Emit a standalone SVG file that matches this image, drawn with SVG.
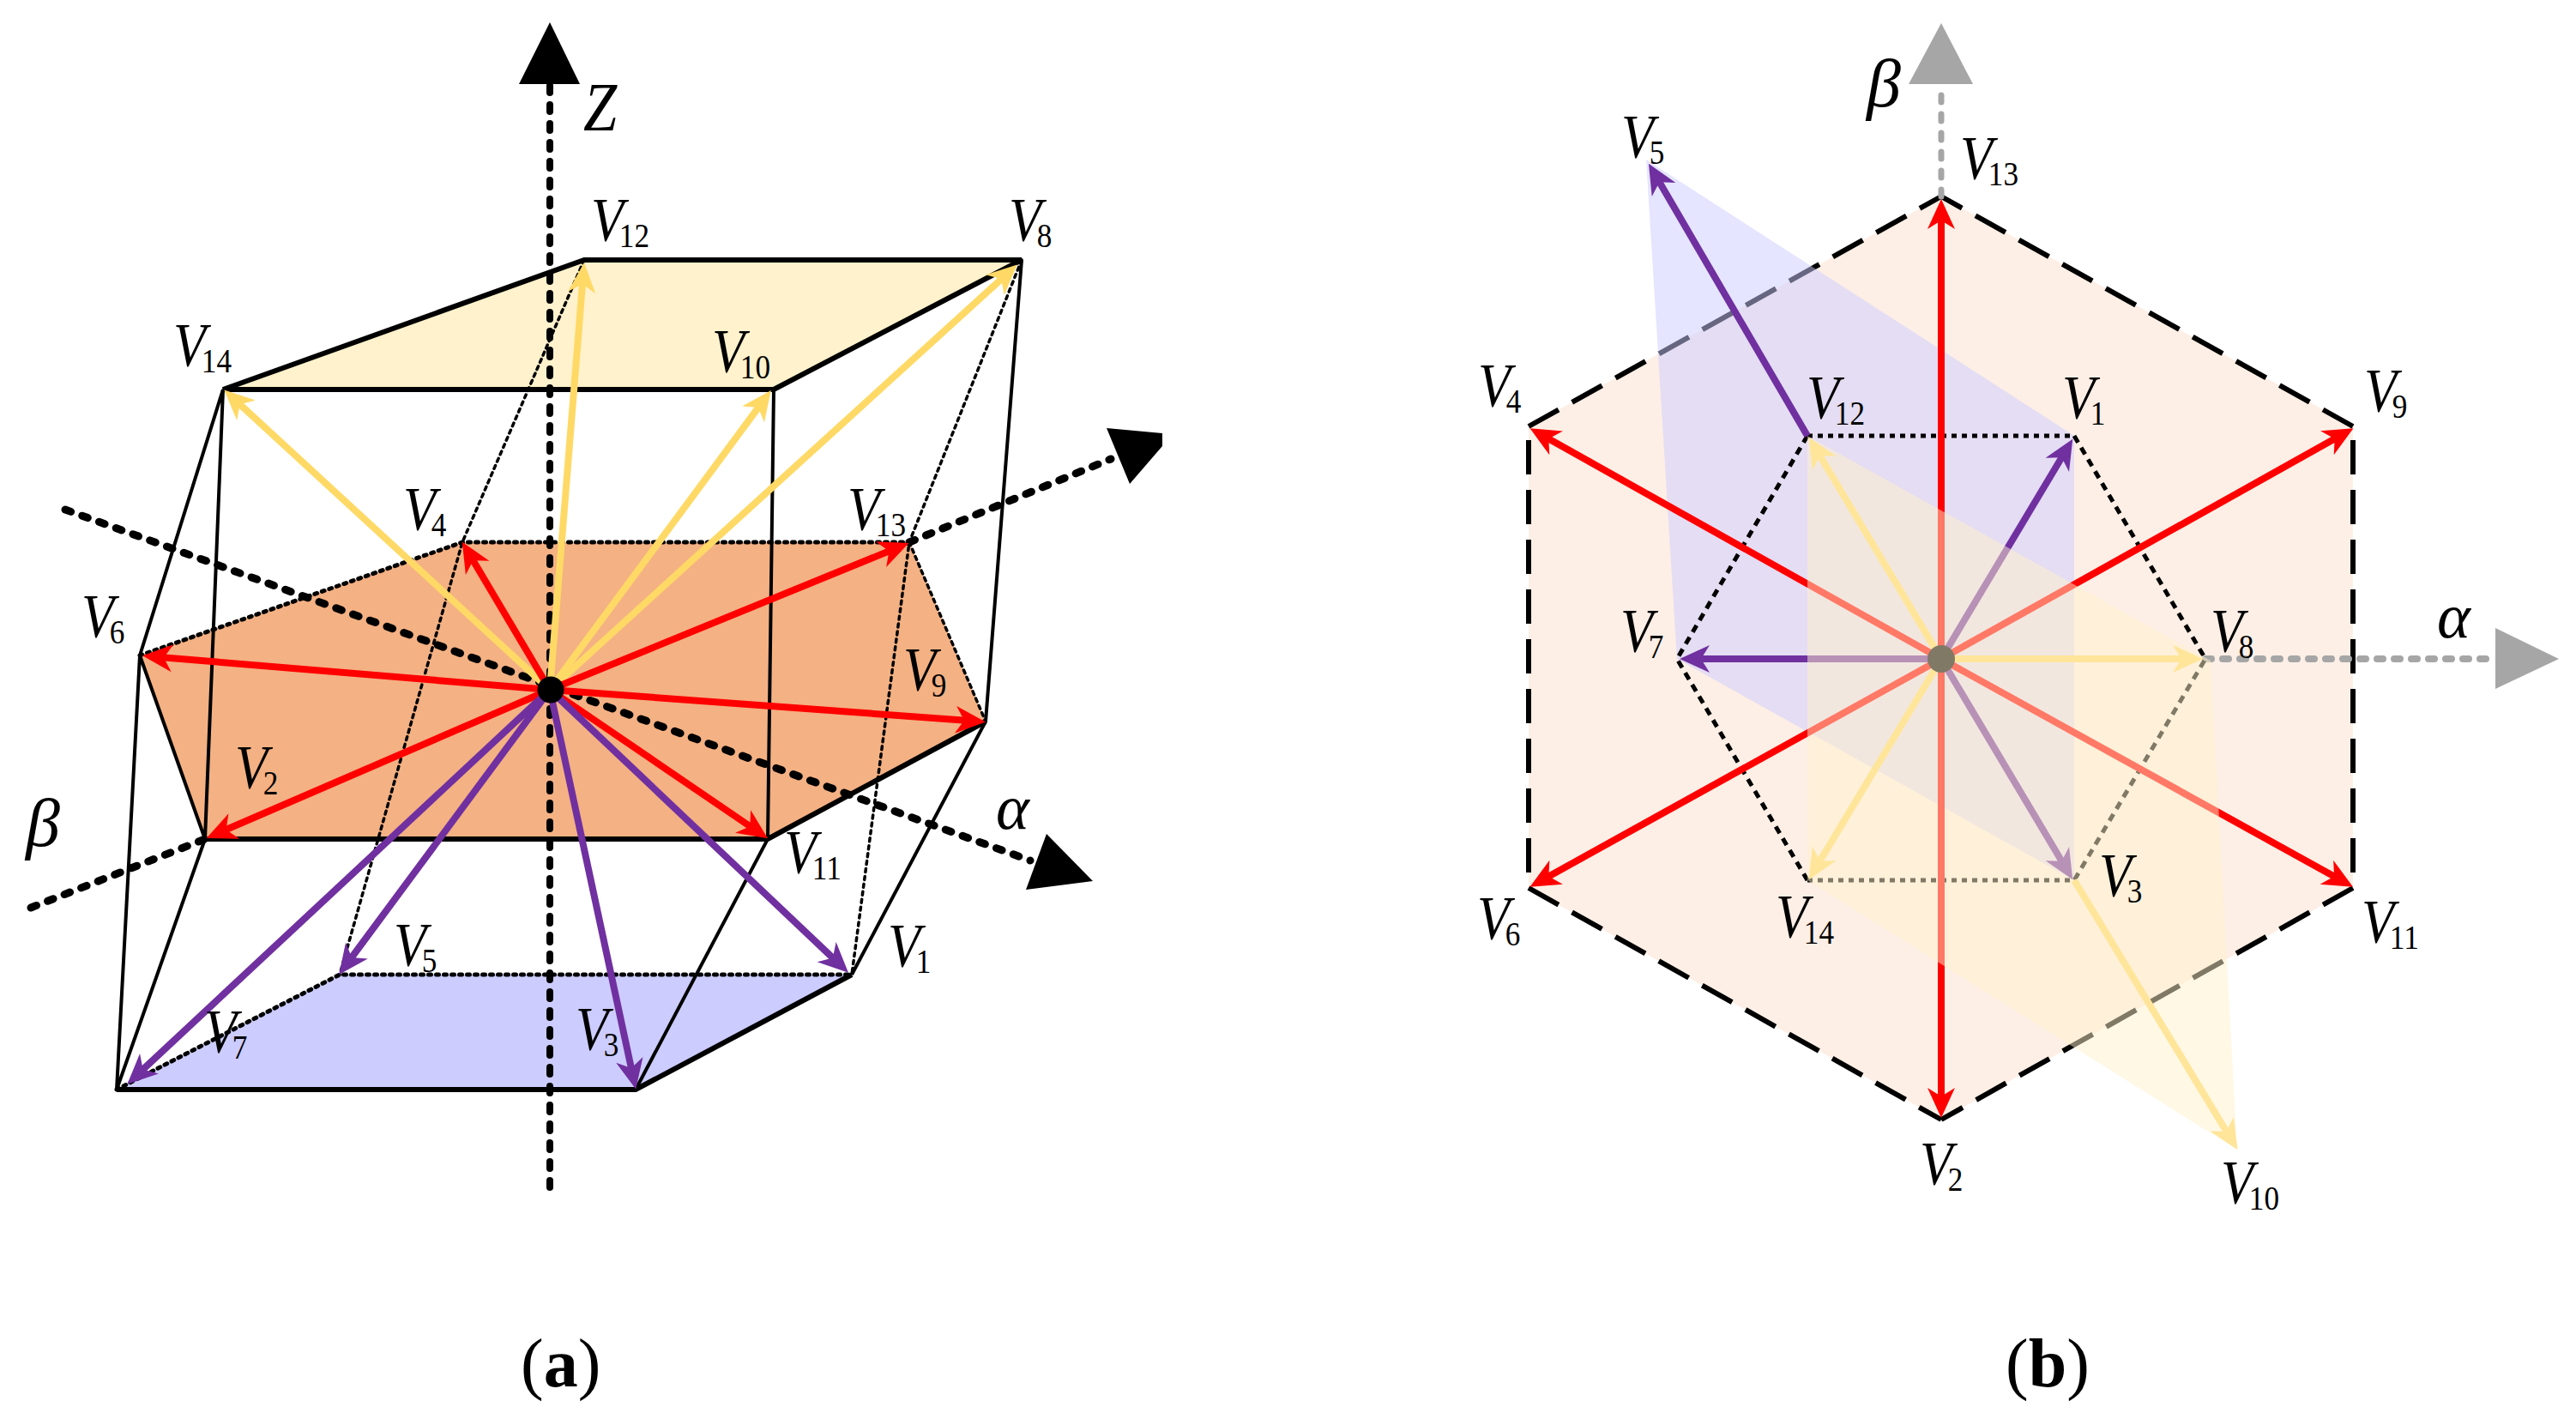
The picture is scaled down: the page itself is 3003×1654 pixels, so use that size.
<svg xmlns="http://www.w3.org/2000/svg" width="3003" height="1654" viewBox="0 0 3003 1654">
<style>
.v{font-family:"Liberation Serif",serif;font-style:italic;font-size:71px;fill:#000}
.s{font-style:normal;font-size:40px}
.g{font-family:"Liberation Serif",serif;font-style:italic;font-size:80px;fill:#000}
.al{font-size:74px}
.c{font-family:"Liberation Serif",serif;font-size:80px;fill:#000}
.c tspan{font-weight:bold}
.t{stroke:#000;stroke-width:4;fill:none}
.k{stroke:#000;stroke-width:6;fill:none;stroke-linejoin:miter}
.d{stroke:#000;stroke-width:3.5;fill:none;stroke-dasharray:4 5;stroke-linecap:round}
.o{stroke:#000;stroke-width:5;fill:none;stroke-dasharray:3 6;stroke-linecap:round}
.ax{stroke:#000;stroke-width:9;fill:none;stroke-dasharray:7 14;stroke-linecap:round}
.z{stroke:#000;stroke-width:8;stroke-dasharray:8 14;stroke-linecap:round}
.h{stroke:#000;stroke-width:6;stroke-dasharray:40 18}
.hv{stroke-dashoffset:42}
.r{stroke:#f00;stroke-width:8;marker-end:url(#mr)}
.p{stroke:#7030a0;stroke-width:8;marker-end:url(#mp)}
.y{stroke:#ffd966;stroke-width:8;marker-end:url(#my)}
</style>
<defs>
<marker id="mr" markerUnits="userSpaceOnUse" markerWidth="1" markerHeight="1" refX="0" refY="0" orient="auto" overflow="visible"><path d="M20,0L-15,-16L-5,0L-15,16Z" fill="#f00"/></marker>
<marker id="mp" markerUnits="userSpaceOnUse" markerWidth="1" markerHeight="1" refX="0" refY="0" orient="auto" overflow="visible"><path d="M20,0L-15,-16L-5,0L-15,16Z" fill="#7030a0"/></marker>
<marker id="my" markerUnits="userSpaceOnUse" markerWidth="1" markerHeight="1" refX="0" refY="0" orient="auto" overflow="visible"><path d="M20,0L-15,-16L-5,0L-15,16Z" fill="#ffd966"/></marker>
</defs>
<g id="panel-a">
<g id="a-faces">
<polygon points="681,303 1191,303 902,454 260,454" fill="#fff2cc"/>
<polygon points="539,632 1060,632 1149,841 895,978 239,978 163,764" fill="#f4b183"/>
<polygon points="396,1136 993,1136 741,1270 136,1270" fill="#ccf"/>
</g>
<g id="a-edges">
<polygon class="k" points="681,303 1191,303 902,454 260,454"/>
<path class="t" d="M260,454L163,764L136,1270M260,454L239,978L136,1270M902,454L895,978L741,1270M1191,303L1149,841L993,1136M163,764L239,978"/>
<path class="k" d="M239,978H895L1149,841M136,1270H741L993,1136"/>
<path class="o" d="M163,764L539,632H1060M136,1270L396,1136H993"/>
<path class="d" d="M681,303L539,632L396,1136M1191,303L1060,632L993,1136M1060,632L1149,841"/>
</g>
<g id="a-axes">
<line class="z" x1="641" y1="100" x2="641" y2="1390"/>
<path class="ax" d="M76,594L1201,1003M36,1058L239,978M1060,632L1295,535"/>
<polygon points="641,26 605,98 676,98"/>
<polygon points="1220,972 1274,1027 1196,1037"/>
<polygon points="1290,499 1355,505 1355,520 1317,564"/>
</g>
<g id="a-vectors">
<line class="y" x1="641" y1="804" x2="679.4" y2="326"/>
<line class="y" x1="641" y1="804" x2="1171" y2="322"/>
<line class="y" x1="641" y1="804" x2="887" y2="471"/>
<line class="y" x1="641" y1="804" x2="276" y2="468"/>
<line class="r" x1="641" y1="804" x2="549" y2="649"/>
<line class="r" x1="641" y1="804" x2="1041" y2="640.5"/>
<line class="r" x1="641" y1="804" x2="186" y2="766"/>
<line class="r" x1="641" y1="804" x2="1129" y2="840"/>
<line class="r" x1="641" y1="804" x2="878.5" y2="966"/>
<line class="r" x1="641" y1="804" x2="259" y2="969"/>
<line class="p" x1="641" y1="804" x2="974.5" y2="1120"/>
<line class="p" x1="641" y1="804" x2="407" y2="1120"/>
<line class="p" x1="641" y1="804" x2="737" y2="1250"/>
<line class="p" x1="641" y1="804" x2="163" y2="1250"/>
<circle cx="642" cy="804" r="15.5"/>
</g>
<g id="a-labels">
<text class="g" transform="translate(680,152) scale(.88,1)">Z</text>
<text class="g" x="30" y="986">β</text>
<text class="g al" x="1161" y="966">α</text>
<text class="v" transform="translate(689,280) scale(.88,1)">V<tspan class="s" dx="-6" dy="8">12</tspan></text>
<text class="v" transform="translate(1176,280) scale(.88,1)">V<tspan class="s" dx="-6" dy="8">8</tspan></text>
<text class="v" transform="translate(202,426) scale(.88,1)">V<tspan class="s" dx="-6" dy="8">14</tspan></text>
<text class="v" transform="translate(830,433) scale(.88,1)">V<tspan class="s" dx="-6" dy="8">10</tspan></text>
<text class="v" transform="translate(470,617) scale(.88,1)">V<tspan class="s" dx="-6" dy="8">4</tspan></text>
<text class="v" transform="translate(988,617) scale(.88,1)">V<tspan class="s" dx="-6" dy="8">13</tspan></text>
<text class="v" transform="translate(95,742) scale(.88,1)">V<tspan class="s" dx="-6" dy="8">6</tspan></text>
<text class="v" transform="translate(1053,804) scale(.88,1)">V<tspan class="s" dx="-6" dy="8">9</tspan></text>
<text class="v" transform="translate(274,918) scale(.88,1)">V<tspan class="s" dx="-6" dy="8">2</tspan></text>
<text class="v" transform="translate(914,1017) scale(.88,1)">V<tspan class="s" dx="-6" dy="8">11</tspan></text>
<text class="v" transform="translate(459,1125) scale(.88,1)">V<tspan class="s" dx="-6" dy="8">5</tspan></text>
<text class="v" transform="translate(1035,1126) scale(.88,1)">V<tspan class="s" dx="-6" dy="8">1</tspan></text>
<text class="v" transform="translate(238,1226) scale(.88,1)">V<tspan class="s" dx="-6" dy="8">7</tspan></text>
<text class="v" transform="translate(671,1223) scale(.88,1)">V<tspan class="s" dx="-6" dy="8">3</tspan></text>
<text class="c" x="607" y="1616">(<tspan>a</tspan>)</text>
</g>
</g>
<g id="panel-b">
<g id="b-hexagon">
<polygon points="2263,229 2743,497 2743,1035 2263,1305 1782,1035 1782,497" fill="#f4b183" fill-opacity=".2"/>
<line class="h" x1="2743" y1="497" x2="2263" y2="229"/>
<line class="h" x1="1782" y1="497" x2="2263" y2="229"/>
<line class="h hv" x1="2743" y1="497" x2="2743" y2="1035"/>
<line class="h hv" x1="1782" y1="497" x2="1782" y2="1035"/>
<line class="h" x1="2743" y1="1035" x2="2263" y2="1305"/>
<line class="h" x1="1782" y1="1035" x2="2263" y2="1305"/>
</g>
<polygon id="b-purple" points="1919,186 2418,508 2418,1026 1955,768" fill="#ccf" fill-opacity=".5"/>
<g id="b-axes">
<line x1="2263" y1="229" x2="2263" y2="98" stroke="#a6a6a6" stroke-width="7" stroke-dasharray="8 14" stroke-linecap="round"/>
<line x1="2571" y1="768" x2="2910" y2="768" stroke="#a6a6a6" stroke-width="8" stroke-dasharray="7 13" stroke-linecap="round"/>
<polygon points="2263,27 2225,98 2300,98" fill="#a6a6a6"/>
<polygon points="2983,768 2909,732 2909,803" fill="#a6a6a6"/>
</g>
<g id="b-inner">
<path d="M2107,508H2418M2107,1026H2418" stroke="#000" stroke-width="5" stroke-dasharray="6 6" fill="none"/>
<path d="M2107,508L1955,768L2107,1026M2418,508L2571,768L2418,1026" stroke="#000" stroke-width="5" stroke-dasharray="9 7" fill="none"/>
</g>
<g id="b-vectors">
<line class="r" x1="2263" y1="768" x2="2263" y2="252"/>
<line class="r" x1="2263" y1="768" x2="2263" y2="1283"/>
<line class="r" x1="2263" y1="768" x2="1801" y2="509"/>
<line class="r" x1="2263" y1="768" x2="2726" y2="509"/>
<line class="r" x1="2263" y1="768" x2="1801" y2="1024"/>
<line class="r" x1="2263" y1="768" x2="2725.5" y2="1024"/>
<line class="p" x1="2107" y1="508" x2="1932" y2="208"/>
<line class="p" x1="2263" y1="768" x2="2406" y2="529"/>
<line class="p" x1="2263" y1="768" x2="1978" y2="768"/>
<line class="p" x1="2263" y1="768" x2="2406" y2="1008"/>
<line class="y" x1="2263" y1="768" x2="2119" y2="527"/>
<line class="y" x1="2263" y1="768" x2="2548" y2="768"/>
<line class="y" x1="2263" y1="768" x2="2119" y2="1008"/>
<line class="y" x1="2418" y1="1026" x2="2598" y2="1323"/>
<circle cx="2263" cy="768" r="16"/>
</g>
<polygon id="b-yellow" points="2107,508 2577,770 2608,1340 2107,1026" fill="#fff2cc" fill-opacity=".5"/>
<g id="b-labels">
<text class="g" x="2176" y="124">β</text>
<text class="g al" x="2841" y="743">α</text>
<text class="v" transform="translate(2285,208) scale(.88,1)">V<tspan class="s" dx="-6" dy="8">13</tspan></text>
<text class="v" transform="translate(1890,183) scale(.88,1)">V<tspan class="s" dx="-6" dy="8">5</tspan></text>
<text class="v" transform="translate(1723,473) scale(.88,1)">V<tspan class="s" dx="-6" dy="8">4</tspan></text>
<text class="v" transform="translate(2756,479) scale(.88,1)">V<tspan class="s" dx="-6" dy="8">9</tspan></text>
<text class="v" transform="translate(2106,487) scale(.88,1)">V<tspan class="s" dx="-6" dy="8">12</tspan></text>
<text class="v" transform="translate(2404,487) scale(.88,1)">V<tspan class="s" dx="-6" dy="8">1</tspan></text>
<text class="v" transform="translate(1889,759) scale(.88,1)">V<tspan class="s" dx="-6" dy="8">7</tspan></text>
<text class="v" transform="translate(2577,759) scale(.88,1)">V<tspan class="s" dx="-6" dy="8">8</tspan></text>
<text class="v" transform="translate(2447,1044) scale(.88,1)">V<tspan class="s" dx="-6" dy="8">3</tspan></text>
<text class="v" transform="translate(1722,1094) scale(.88,1)">V<tspan class="s" dx="-6" dy="8">6</tspan></text>
<text class="v" transform="translate(2070,1092) scale(.88,1)">V<tspan class="s" dx="-6" dy="8">14</tspan></text>
<text class="v" transform="translate(2753,1098) scale(.88,1)">V<tspan class="s" dx="-6" dy="8">11</tspan></text>
<text class="v" transform="translate(2238,1380) scale(.88,1)">V<tspan class="s" dx="-6" dy="8">2</tspan></text>
<text class="v" transform="translate(2589,1402) scale(.88,1)">V<tspan class="s" dx="-6" dy="8">10</tspan></text>
<text class="c" x="2338" y="1616">(<tspan>b</tspan>)</text>
</g>
</g>
</svg>
